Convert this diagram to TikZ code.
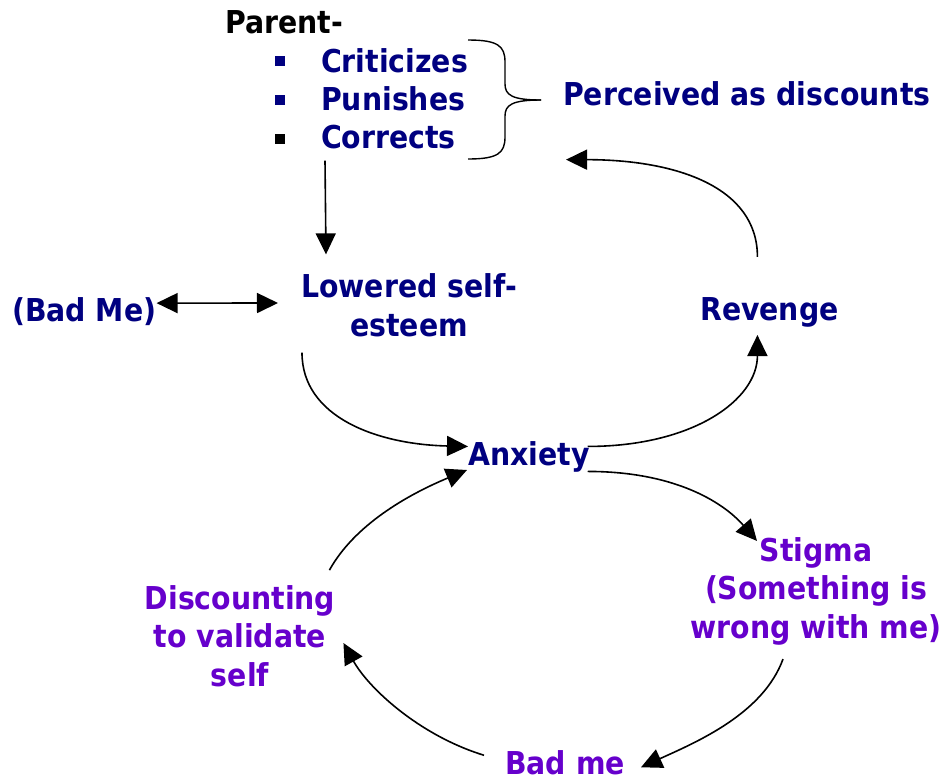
\documentclass[tikz,border=0pt]{standalone}
\usepackage{fontspec}
\usepackage{xcolor}
\usepackage{tikz}
\usetikzlibrary{arrows.meta,positioning,calc}
\setmainfont{DejaVu Sans Condensed}
\definecolor{navytxt}{RGB}{0,0,128}
\definecolor{purptxt}{RGB}{102,0,204}

\begin{document}
\begin{tikzpicture}[
        x=1pt, y=-1pt,
        font=\bfseries\fontsize{31.5}{38.5}\selectfont,
        label/.style={inner sep=0pt, align=center, text=navytxt},
        plabel/.style={label, text=purptxt},
        bullet/.style={rectangle, inner sep=0pt, minimum size=10pt},
        arrow/.style={-{Triangle[length=21pt,width=20pt]}, line width=1.6pt},
        darrow/.style={{Triangle[length=21pt,width=20pt]}-{Triangle[length=21pt,width=20pt]}, line width=1.6pt}
    ]
        \useasboundingbox (0,0) rectangle (947,780);

        % Parent list
        \node[label, text=black, anchor=base west] (parent) at (225,33) {Parent-};
        \node[label, anchor=base west] (crit) at (321,72) {Criticizes};
        \node[label, anchor=base west] (pun) at (321,110) {Punishes};
        \node[label, anchor=base west] (corr) at (321,148) {Corrects};
        \node[bullet, fill=navytxt] (b1) at (279.5,61) {};
        \node[bullet, fill=navytxt] (b2) at (279.5,100) {};
        \node[bullet, fill=black] (b3) at (279.5,139) {};

        % Brace
        \draw[line width=1.4pt] (468,40) .. controls (498,40) and (505,46) .. (505,62) -- (505,84)
            .. controls (505,95) and (512,100) .. (541,100);
        \draw[line width=1.4pt] (468,159) .. controls (498,159) and (505,153) .. (505,137) -- (505,116)
            .. controls (505,105) and (512,100) .. (541,100);
        \node[label, anchor=base west] (perc) at (563,105) {Perceived as discounts};

        % Upper loop
        \node[label] (low) at (409,305) {Lowered self-\\esteem};
        \node[label, anchor=base west] (bad) at (12,321) {(Bad Me)};
        \node[label, anchor=base west] (rev) at (700,320) {Revenge};
        \node[label, anchor=base west] (anx) at (468,465) {Anxiety};

        % Lower loop
        \node[plabel] (stig) at (816,591) {Stigma\\(Something is\\wrong with me)};
        \node[plabel] (disc) at (240,636) {Discounting\\to validate\\self};
        \node[plabel, anchor=base west] (badme) at (505,774) {Bad me};

        % Arrows
        \draw[arrow] ($(corr.south west)+(4,12)$) -- ($(low.north west)+(25,-19)$);
        \draw[darrow] ($(bad.east)+(0,-8)$) -- ($(low.west)+(-23,-2)$);
        \draw[arrow] ($(low.south west)+(1,16)$) .. controls +(0,65) and +(-90,-2) .. ($(anx.west)+(0,-10)$);
        \draw[arrow] ($(anx.east)+(-2,-10)$) .. controls +(105,0) and +(0,65) .. ($(rev.south)+(-12,8)$);
        \draw[arrow] ($(rev.north)+(-12,-40)$) .. controls +(0,-70) and +(110,0) .. ($(perc.south west)+(3,54)$);
        \draw[arrow] ($(anx.east)+(-2,15)$) .. controls +(85,0) and +(-35,-40) .. ($(stig.north)+(-59,4)$);
        \draw[arrow] ($(stig.south)+(-33,14)$) .. controls +(-20,55) and +(55,-25) .. ($(badme.east)+(16,5)$);
        \draw[arrow] ($(badme.west)+(-21,-7)$) .. controls +(-65,-20) and +(25,45) .. ($(disc.east)+(8,7)$);
        \draw[arrow] ($(disc.north east)+(-6,-15)$) .. controls +(25,-45) and +(-60,25) .. ($(anx.south west)+(-1,-2)$);

    \end{tikzpicture}
\end{document}
